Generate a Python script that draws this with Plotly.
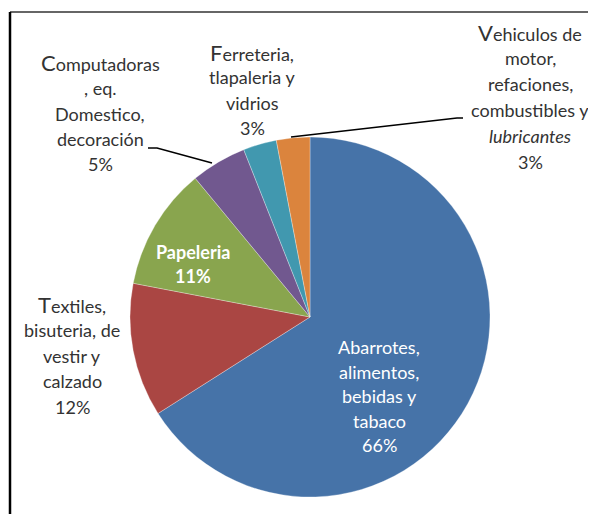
import plotly.graph_objects as go

categories = [
    "Abarrotes, alimentos, bebidas y tabaco",
    "Textiles, bisuteria, de vestir y calzado",
    "Papeleria",
    "Computadoras, eq. Domestico, decoración",
    "Ferreteria, tlapaleria y vidrios",
    "Vehiculos de motor, refaciones, combustibles y lubricantes",
]
values = [66, 12, 11, 5, 3, 3]
pct_labels = ["66%", "12%", "11%", "5%", "3%", "3%"]
colors = ["#4673A8", "#AA4643", "#89A54E", "#71588F", "#4198AF", "#DB843D"]

# label text broken into lines as in the original
label_lines = [
    ["Abarrotes,", "alimentos,", "bebidas y", "tabaco", pct_labels[0]],
    ["Textiles,", "bisuteria, de", "vestir y", "calzado", pct_labels[1]],
    ["<b>Papeleria</b>", "<b>" + pct_labels[2] + "</b>"],
    ["Computadoras", ", eq.", "Domestico,", "decoración", pct_labels[3]],
    ["Ferreteria,", "tlapaleria y", "vidrios", pct_labels[4]],
    ["Vehiculos de", "motor,", "refaciones,", "combustibles y", "<i>lubricantes</i>", pct_labels[5]],
]

W, H = 596, 514
OFF = 8  # page body margin
cx, cy, r = 310 - OFF, 317 - OFF, 180

fig = go.Figure(go.Pie(
    labels=categories,
    values=values,
    sort=False,
    direction="clockwise",
    rotation=0,
    textinfo="none",
    hoverinfo="label+percent",
    marker=dict(colors=colors, line=dict(color="rgba(255,255,255,0.5)", width=0.6)),
    domain=dict(x=[(cx - r) / W, (cx + r) / W], y=[1 - (cy + r) / H, 1 - (cy - r) / H]),
    showlegend=False,
))

def big(s, size=22):
    return '<span style="font-size:%dpx">%s</span>%s' % (size, s[0], s[1:])

# (center x, first line y, line spacing, big first letter, color)
label_layout = [
    (379, 347, 24.5, False, "white"),
    (72, 304, 25.8, True, "#333333"),
    (193, 252, 23.5, False, "white"),
    (100, 63, 25.3, True, "#333333"),
    (252, 52, 25.3, True, "#333333"),
    (530, 32, 26.0, True, "#333333"),
]

def px(x):
    return (x - OFF) / W

def py(y):
    return 1 - (y - OFF) / H

annotations = []
for lines, (x, y0, dy, bigfirst, c) in zip(label_lines, label_layout):
    for i, line in enumerate(lines):
        t = big(line) if (bigfirst and i == 0) else line
        annotations.append(dict(
            x=px(x), y=py(y0 + i * dy), xref="paper", yref="paper",
            text=t, showarrow=False, xanchor="center", yanchor="middle",
            align="center", font=dict(family="Lato", size=18, color=c),
        ))

def path(pts):
    return "M " + " L ".join("%f,%f" % (px(a), py(b)) for a, b in pts)

shapes = [
    dict(type="path", xref="paper", yref="paper",
         path=path([(148, 148), (157, 148), (212, 163)]),
         line=dict(color="black", width=1.5)),
    dict(type="path", xref="paper", yref="paper",
         path=path([(291, 137), (457, 118), (463, 118)]),
         line=dict(color="black", width=1.5)),
    # frame
    dict(type="line", xref="paper", yref="paper",
         x0=px(10), x1=1.05, y0=py(12), y1=py(12),
         line=dict(color="#333333", width=1.5)),
    dict(type="line", xref="paper", yref="paper",
         x0=px(10), x1=px(10), y0=py(12), y1=-0.05,
         line=dict(color="black", width=2.5)),
]

fig.update_layout(
    width=W, height=H,
    margin=dict(l=0, r=0, t=0, b=0),
    paper_bgcolor="white",
    plot_bgcolor="white",
    annotations=annotations,
    shapes=shapes,
    font=dict(family="Lato"),
)

fig.write_html("out.html")
